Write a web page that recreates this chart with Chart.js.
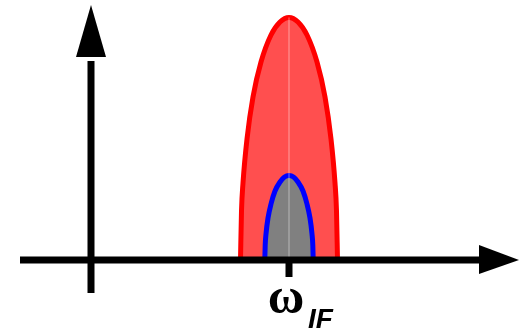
<!DOCTYPE html>
<html>
<head>
<meta charset="utf-8">
<script src="https://cdn.jsdelivr.net/npm/chart.js@4.4.0/dist/chart.umd.min.js"></script>
<style>
  body { margin: 0; background: #fff; }
  #grafico { display: block; }
</style>
</head>
<body>
<canvas id="grafico" width="520" height="331"></canvas>
<script>
// Espectro ancho (rojo) y espectro angosto (azul / gris) alrededor de la IF
const anchoX = [-4.85, -4.75, -4.6, -4.2, -3.6, -2.8, -1.8, -0.9, 0, 0.9, 1.8, 2.8, 3.6, 4.2, 4.6, 4.75, 4.85];
const anchoY = [0, 4.9, 7.7, 12.1, 16.3, 19.8, 22.5, 23.8, 24.25, 23.8, 22.5, 19.8, 16.3, 12.1, 7.7, 4.9, 0];

const angostoX = [-2.42, -2.38, -2.3, -2.1, -1.8, -1.4, -0.9, -0.45, 0, 0.45, 0.9, 1.4, 1.8, 2.1, 2.3, 2.38, 2.42];
const angostoY = [0, 1.5, 2.6, 4.2, 5.6, 6.9, 7.8, 8.3, 8.45, 8.3, 7.8, 6.9, 5.6, 4.2, 2.6, 1.5, 0];

const centroX = [0, 0];
const centroY = [0, 24.25];

const tickValores = [0];
const tickLabels = ['ω'];
const tickSub = ['IF'];

const puntos = (xs, ys) => xs.map((x, i) => ({ x: x, y: ys[i] }));

// ejes con flechas, dibujados sobre las curvas
const ejesPlugin = {
    id: 'ejes',
    afterDatasetsDraw(chart) {
        const ctx = chart.ctx;
        const xs = chart.scales.x;
        const ys = chart.scales.y;
        const y0 = ys.getPixelForValue(0);
        const xEje = xs.getPixelForValue(-19.8);
        ctx.save();
        ctx.fillStyle = '#000';
        ctx.strokeStyle = '#000';
        ctx.lineWidth = 7;

        // eje horizontal
        ctx.beginPath();
        ctx.moveTo(xs.getPixelForValue(-26.9), y0);
        ctx.lineTo(xs.getPixelForValue(19.2), y0);
        ctx.stroke();
        const bx = xs.getPixelForValue(19.0);
        ctx.beginPath();
        ctx.moveTo(bx, y0 - 15);
        ctx.lineTo(xs.getPixelForValue(23.0), y0);
        ctx.lineTo(bx, y0 + 14);
        ctx.closePath();
        ctx.fill();

        // eje vertical
        ctx.beginPath();
        ctx.moveTo(xEje, ys.getPixelForValue(-3.3));
        ctx.lineTo(xEje, ys.getPixelForValue(19.9));
        ctx.stroke();
        const by = ys.getPixelForValue(20.3);
        ctx.beginPath();
        ctx.moveTo(xEje - 15, by);
        ctx.lineTo(xEje, ys.getPixelForValue(25.5));
        ctx.lineTo(xEje + 15, by);
        ctx.closePath();
        ctx.fill();

        // marcas y etiquetas
        tickValores.forEach((v, i) => {
            const px = xs.getPixelForValue(v);
            ctx.beginPath();
            ctx.moveTo(px, y0);
            ctx.lineTo(px, y0 + 17);
            ctx.stroke();
            ctx.textBaseline = 'alphabetic';
            ctx.textAlign = 'center';
            ctx.font = 'bold 50px "Liberation Serif"';
            ctx.fillText(tickLabels[i], px - 3, y0 + 53);
            ctx.textAlign = 'left';
            ctx.font = 'italic bold 28px "Liberation Sans"';
            ctx.fillText(tickSub[i], px + 19, y0 + 68);
        });
        ctx.restore();
    }
};

new Chart(document.getElementById('grafico').getContext('2d'), {
    type: 'line',
    data: {
        datasets: [
            {
                data: puntos(centroX, centroY),
                borderColor: 'rgba(255,255,255,0.45)',
                borderWidth: 1,
                pointRadius: 0,
                fill: false
            },
            {
                data: puntos(angostoX, angostoY),
                borderColor: '#0000ff',
                backgroundColor: '#808080',
                borderWidth: 5,
                pointRadius: 0,
                cubicInterpolationMode: 'monotone',
                fill: 'origin'
            },
            {
                data: puntos(anchoX, anchoY),
                borderColor: '#ff0000',
                backgroundColor: 'rgba(255,0,0,0.69)',
                borderWidth: 5,
                pointRadius: 0,
                cubicInterpolationMode: 'monotone',
                fill: 'origin'
            }
        ]
    },
    options: {
        responsive: false,
        animation: false,
        layout: { padding: 0 },
        plugins: {
            legend: { display: false },
            tooltip: { enabled: false }
        },
        scales: {
            x: { type: 'linear', min: -28.9, max: 23.1, display: false },
            y: { type: 'linear', min: -7.1, max: 26, display: false }
        }
    },
    plugins: [ejesPlugin]
});
</script>
</body>
</html>
